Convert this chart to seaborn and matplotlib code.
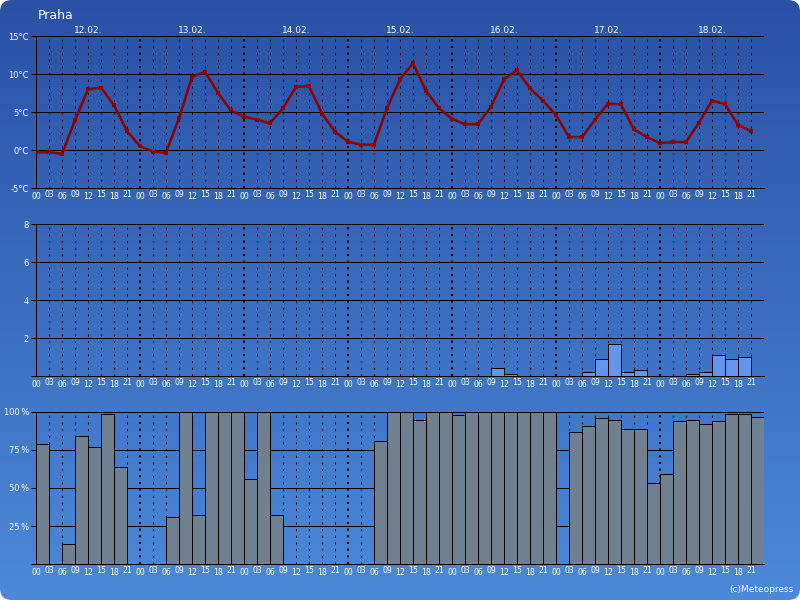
import numpy as np
import pandas as pd
import seaborn as sns
import matplotlib.pyplot as plt
from matplotlib.patches import FancyBboxPatch
from matplotlib.colors import LinearSegmentedColormap
from matplotlib.transforms import IdentityTransform

# 3-hourly forecast for Praha, 12.02. - 18.02.
days = ["12.02.", "13.02.", "14.02.", "15.02.", "16.02.", "17.02.", "18.02."]
hours = ["00", "03", "06", "09", "12", "15", "18", "21"]

temps = [-0.3, -0.3, -0.5, 3.9, 8.0, 8.2, 5.9, 2.5,
         0.5, -0.2, -0.35, 4.2, 9.6, 10.3, 7.5, 5.2,
         4.4, 4.0, 3.5, 5.5, 8.3, 8.4, 4.8, 2.4,
         1.1, 0.7, 0.7, 5.5, 9.3, 11.4, 7.8, 5.5,
         4.1, 3.4, 3.4, 5.7, 9.3, 10.5, 8.1, 6.5,
         4.6, 1.7, 1.7, 4.0, 6.1, 6.0, 2.7, 1.7,
         0.9, 1.05, 1.05, 3.6, 6.5, 6.05, 3.3, 2.5]

precip = [0, 0, 0, 0, 0, 0, 0, 0,
          0, 0, 0, 0, 0, 0, 0, 0,
          0, 0, 0, 0, 0, 0, 0, 0,
          0, 0, 0, 0, 0, 0, 0, 0,
          0, 0, 0, 0.42, 0.12, 0, 0, 0,
          0, 0, 0.23, 0.9, 1.7, 0.21, 0.32, 0,
          0, 0, 0.12, 0.21, 1.1, 0.9, 1.0, 0]

clouds = [79, 0, 13, 84, 77, 99, 64, 0,
          0, 0, 31, 100, 32, 100, 100, 100,
          56, 100, 32, 0, 0, 0, 0, 0,
          0, 0, 81, 100, 100, 95, 100, 100,
          98, 100, 100, 100, 100, 100, 100, 100,
          0, 87, 91, 96, 95, 89, 89, 53,
          59, 94, 95, 92, 94, 99, 99, 97]

sns.set_style("white", {"axes.facecolor": "none"})
plt.rcParams["font.family"] = ["DejaVu Sans"]

df = pd.DataFrame({"step": np.arange(len(temps)), "temp": temps,
                   "precip": precip, "clouds": clouds})
df["mid"] = df["step"] + 0.5
n = len(df)

fig = plt.figure(figsize=(8, 6), dpi=100)
fig.patch.set_facecolor("white")

# blue gradient background with rounded corners
bg = fig.add_axes([0, 0, 1, 1], zorder=-10)
bg.axis("off")
cmap = LinearSegmentedColormap.from_list("bgblue", ["#2a51a5", "#4c89d9"])
im = bg.imshow(np.linspace(0, 1, 256).reshape(-1, 1), cmap=cmap,
               aspect="auto", extent=[0, 1, 0, 1], origin="upper")
frame = FancyBboxPatch((0, 0), 800, 600, boxstyle="round,pad=0,rounding_size=12",
                       transform=IdentityTransform())
im.set_clip_path(frame)

LW = 0.72  # 1 px


def panel(top_px):
    return fig.add_axes([36 / 800, 1 - (top_px + 152) / 600, 728 / 800, 152 / 600])


def style(ax, lo, hi, ticks, labels):
    ax.set_xlim(0, n)
    ax.set_ylim(lo, hi)
    for s in ["top", "right"]:
        ax.spines[s].set_visible(False)
    for s in ["left", "bottom"]:
        ax.spines[s].set_color("black")
        ax.spines[s].set_linewidth(LW)
    for v in ticks[1:]:
        ax.axhline(v, color="black", lw=LW, zorder=1)
    for i in range(1, n):
        if i % 8 == 0:
            ax.axvline(i, color="black", lw=1.5, ls=(0, (1, 2.2)), zorder=1)
        else:
            ax.axvline(i, color="black", lw=0.75, ls=(0, (2, 4.4)), zorder=1)
    ax.set_yticks(ticks)
    ax.set_yticklabels(labels)
    ax.tick_params(axis="y", length=3.6, width=LW, color="black",
                   labelcolor="white", labelsize=6, pad=1.5, left=True)
    ax.set_xticks([])
    ax.set_xlabel("")
    ax.set_ylabel("")
    # staggered hour labels: 00/06/12/18 sit lower than 03/09/15/21
    for i in range(n):
        ax.annotate(hours[i % 8], xy=(i, 0), xycoords=("data", "axes fraction"),
                    xytext=(0, -2.8 if i % 2 == 0 else -1.1), textcoords="offset points",
                    ha="center", va="top", fontsize=5.6, color="white")


# temperature
ax_t = panel(36)
sns.lineplot(data=df, x="step", y="temp", color="#8e0000", lw=1.8, marker="s",
             markersize=3.4, markeredgewidth=0, ax=ax_t, zorder=5)
style(ax_t, -5, 15, [-5, 0, 5, 10, 15], ["-5\u00b0C", "0\u00b0C", "5\u00b0C", "10\u00b0C", "15\u00b0C"])
for d, lab in enumerate(days):
    ax_t.annotate(lab, xy=(d * 8 + 4, 1), xycoords=("data", "axes fraction"),
                  xytext=(0, 0.5), textcoords="offset points",
                  ha="center", va="bottom", fontsize=6.5, color="white")

# precipitation
ax_p = panel(224)
sns.barplot(data=df, x="mid", y="precip", native_scale=True, width=1, errorbar=None,
            color="#6495ed", saturation=1, edgecolor="black", linewidth=LW, ax=ax_p, zorder=3)
style(ax_p, 0, 8, [0, 2, 4, 6, 8], ["", "2", "4", "6", "8"])

# cloud cover
ax_c = panel(412)
sns.barplot(data=df, x="mid", y="clouds", native_scale=True, width=1, errorbar=None,
            color="#708090", saturation=1, edgecolor="black", linewidth=LW, ax=ax_c, zorder=3)
style(ax_c, 0, 100, [0, 25, 50, 75, 100],
      ["", "25\u2009%", "50\u2009%", "75\u2009%", "100\u2009%"])

fig.text(38 / 800, 1 - 19 / 600, "Praha", color="white", fontsize=9, va="baseline")
fig.text(793 / 800, 1 - 592 / 600, "(c)Meteopress", color="white", fontsize=6.5,
         ha="right", va="baseline")

fig.savefig("out.png", dpi=100)
